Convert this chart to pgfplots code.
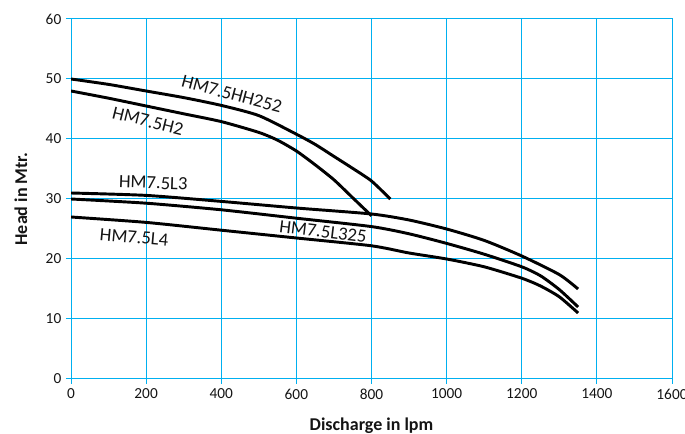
\documentclass[border=0pt]{standalone}
\usepackage{pgfplots}
\pgfplotsset{compat=1.18}
\usepackage{fontspec}
\setmainfont{Carlito}
\definecolor{gridc}{RGB}{0,176,240}
\definecolor{txt}{RGB}{20,20,20}
\begin{document}
\begin{tikzpicture}
\begin{axis}[
  scale only axis, width=450.75pt, height=270pt,
  xmin=0, xmax=1600, ymin=0, ymax=60,
  xtick={0,200,...,1600}, ytick={0,10,...,60},
  grid=major,
  major grid style={draw=gridc, line width=0.75pt},
  axis line style={draw=gridc, line width=0.75pt},
  xtick pos=bottom, ytick pos=left,
  tick align=outside,
  major tick length=3.75pt,
  tick style={draw=gridc, line width=0.75pt},
  /pgf/number format/assume math mode=true,
  /pgf/number format/set thousands separator={},
  ticklabel style={font=\fontsize{11.5}{13}\selectfont, text=txt},
  xlabel={\textbf{Discharge in lpm}},
  ylabel={\textbf{Head in Mtr.}},
  label style={font=\fontsize{13.5}{15}\selectfont, text=txt},
  xlabel style={yshift=-7pt},
  ylabel style={yshift=7pt},
  cycle list={{black}},
  every axis plot/.append style={black, line width=2.2pt, smooth, tension=0.4, no marks},
]
\coordinate (sw) at (rel axis cs:0,0);
\coordinate (ne) at (rel axis cs:1,1);
% HM7.5HH252
\addplot[black] coordinates {(0,50) (100,49.1) (200,48) (300,46.9) (400,45.6) (500,43.9) (600,40.8) (650,39.1) (700,37.1) (750,35.1) (800,33) (850,30)};
% HM7.5H2
\addplot[black] coordinates {(0,48) (100,46.8) (200,45.5) (300,44.2) (400,42.9) (500,41.1) (550,39.8) (600,38) (650,35.7) (700,33.2) (750,30.2) (800,27.2)};
% HM7.5L3
\addplot[black] coordinates {(0,31) (200,30.6) (400,29.6) (600,28.5) (800,27.5) (900,26.5) (1000,25) (1100,23.1) (1200,20.5) (1300,17.4) (1350,15)};
% HM7.5L325
\addplot[black] coordinates {(0,30) (200,29.3) (400,28.2) (600,26.8) (800,25.4) (900,24.2) (1000,22.6) (1100,20.8) (1200,18.7) (1250,17.2) (1300,14.9) (1350,12)};
% HM7.5L4
\addplot[black] coordinates {(0,27) (200,26.1) (400,24.8) (600,23.5) (800,22.2) (900,21) (1000,20) (1100,18.7) (1200,16.8) (1250,15.5) (1300,13.7) (1350,11)};
\node[rotate=-15, font=\fontsize{14}{16}\selectfont, text=txt] at (axis cs:428,47.5) {HM7.5HH252};
\node[rotate=-14, font=\fontsize{14}{16}\selectfont, text=txt] at (axis cs:205,43.0) {HM7.5H2};
\node[rotate=-2, font=\fontsize{14}{16}\selectfont, text=txt] at (axis cs:219,32.7) {HM7.5L3};
\node[rotate=-5, font=\fontsize{14}{16}\selectfont, text=txt] at (axis cs:168,23.6) {HM7.5L4};
\node[rotate=-7, font=\fontsize{14}{16}\selectfont, text=txt] at (axis cs:671,24.6) {HM7.5L325};
\end{axis}
\pgfresetboundingbox
\useasboundingbox ([shift={(-53.25pt,-41.25pt)}]sw) rectangle ([shift={(9.75pt,14.25pt)}]ne);
\end{tikzpicture}
\end{document}
